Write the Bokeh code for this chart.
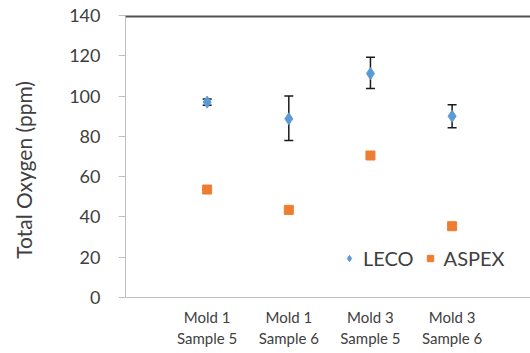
from bokeh.plotting import figure
from bokeh.models import ColumnDataSource, Whisker, TeeHead, FixedTicker, Legend, LegendItem, Range1d, Span
from bokeh.embed import file_html
from bokeh.resources import INLINE

categories = ["Mold 1\nSample 5", "Mold 1\nSample 6", "Mold 3\nSample 5", "Mold 3\nSample 6"]
x_pos = [1, 2, 3, 4]
leco = [97, 88.7, 111.2, 90]
leco_upper = [98.5, 100, 119.3, 95.7]
leco_lower = [95.5, 78, 103.8, 84.3]
aspex = [53.6, 43.5, 70.5, 35.4]
y_ticks = [0, 20, 40, 60, 80, 100, 120, 140]
y_max = 140
y_title = "Total Oxygen (ppm)"

FONT = "Lato"
TXT = "#404040"

p = figure(width=530, height=350, output_backend="svg", toolbar_location=None,
           x_range=Range1d(0, 4.96), y_range=Range1d(0, y_max),
           min_border_left=125, min_border_right=0, min_border_top=15, min_border_bottom=0)
p.outline_line_color = None
p.grid.visible = False
p.background_fill_color = "white"

leco_src = ColumnDataSource(dict(x=x_pos, y=leco, up=leco_upper, lo=leco_lower))
aspex_src = ColumnDataSource(dict(x=x_pos, y=aspex))

w = Whisker(source=leco_src, base="x", upper="up", lower="lo", line_color="#1a1a1a", line_width=1.5,
            upper_head=TeeHead(size=9, line_color="#1a1a1a", line_width=1.5),
            lower_head=TeeHead(size=9, line_color="#1a1a1a", line_width=1.5))
p.add_layout(w)

r1 = p.scatter("x", "y", source=leco_src, marker="diamond", size=12, fill_color="#5B9BD5", line_color="#5B9BD5")
r2 = p.scatter("x", "y", source=aspex_src, marker="square", size=9, fill_color="#ED7D31", line_color="#ED7D31")

# top frame line
p.add_layout(Span(location=y_max, dimension="width", line_color="#505050", line_width=4))

# Y axis
ya = p.yaxis[0]
ya.ticker = FixedTicker(ticks=y_ticks)
ya.axis_line_color = "#BFBFBF"
ya.major_tick_line_color = "#BFBFBF"
ya.major_tick_out = 7
ya.major_tick_in = 0
ya.minor_tick_line_color = None
ya.major_label_text_font = FONT
ya.major_label_text_font_size = "18px"
ya.major_label_text_color = TXT
ya.major_label_standoff = 18
ya.axis_label = y_title + "\u00a0" * 5
ya.axis_label_text_font = FONT
ya.axis_label_text_font_size = "21px"
ya.axis_label_text_font_style = "normal"
ya.axis_label_text_color = TXT
ya.axis_label_standoff = 30

# X axis
xa = p.xaxis[0]
xa.ticker = FixedTicker(ticks=x_pos)
xa.major_label_overrides = {x: c for x, c in zip(x_pos, categories)}
xa.axis_line_color = "#BFBFBF"
xa.major_tick_line_color = None
xa.minor_tick_line_color = None
xa.major_label_text_font = FONT
xa.major_label_text_font_size = "15px"
xa.major_label_text_color = TXT
xa.major_label_standoff = 4

legend = Legend(items=[LegendItem(label="LECO", renderers=[r1]), LegendItem(label="ASPEX", renderers=[r2])],
                orientation="horizontal", location=(216, 27), border_line_color=None,
                background_fill_alpha=0, label_text_font=FONT, label_text_font_size="20px",
                label_text_color=TXT, padding=0, margin=0, spacing=8, glyph_width=16, label_standoff=6)
p.add_layout(legend)

open("out.html", "w").write(file_html(p, INLINE))
